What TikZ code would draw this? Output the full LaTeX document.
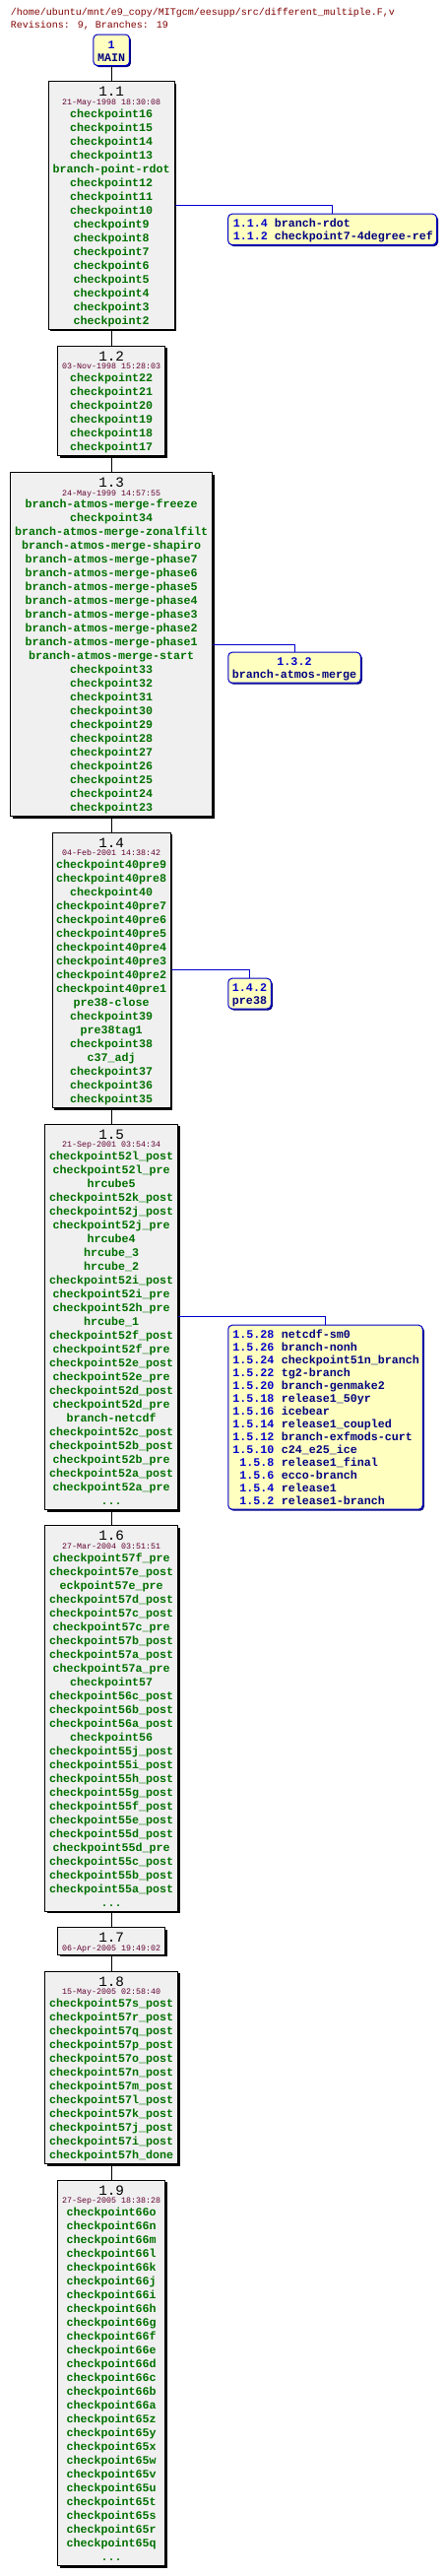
\documentclass[tikz,border=0pt]{standalone}
\usepackage{fontspec}
\newfontfamily\mono{Liberation Mono}
\usetikzlibrary{shadows}
\definecolor{tagc}{RGB}{0,112,0}
\definecolor{datec}{RGB}{96,0,48}
\definecolor{headc}{RGB}{128,0,0}
\definecolor{bnum}{RGB}{0,0,204}
\definecolor{bname}{RGB}{0,0,128}
\definecolor{revfill}{RGB}{240,240,240}
\definecolor{brfill}{RGB}{255,255,192}
\newcommand\tdots{...}
\tikzset{
  revbox/.style={draw=black, line width=1pt, fill=revfill, inner sep=0pt, anchor=north,
    drop shadow={shadow xshift=2pt, shadow yshift=-2pt, fill=black, opacity=1}},
  brbox/.style={draw=bnum, line width=1pt, fill=brfill, rounded corners=4pt, inner sep=0pt, anchor=north,
    drop shadow={shadow xshift=1.5pt, shadow yshift=-1.5pt, fill=bname, opacity=1}},
  tagtxt/.style={inner sep=0pt, anchor=base, text=tagc, font=\mono\bfseries\fontsize{11.67}{13}\selectfont},
  titletxt/.style={inner sep=0pt, anchor=base, text=black, font=\mono\fontsize{14.3}{16}\selectfont},
  datetxt/.style={inner sep=0pt, anchor=base, text=datec, font=\mono\fontsize{8.33}{10}\selectfont},
  headtxt/.style={inner sep=0pt, anchor=base west, text=headc, font=\mono\fontsize{10}{12}\selectfont},
  bnumtxt/.style={inner sep=0pt, anchor=base west, text=bnum, font=\mono\bfseries\fontsize{11.67}{13}\selectfont},
  bnametxt/.style={inner sep=0pt, anchor=base west, text=bname, font=\mono\bfseries\fontsize{11.67}{13}\selectfont},
  revline/.style={draw=black, line width=1pt},
  brline/.style={draw=bnum, line width=1pt},
}
\newcommand\revnode[6]{%
  \node[revbox, minimum width=#3pt, minimum height={27.4+14*#4}] (#1) at (113.2,#2) {};
  \node[titletxt] (#1t) at (113.2,{#2+15.4}) {#5};
  \node[datetxt] (#1d) at (113.2,{#2+24.2}) {#6};
}
\newcommand\revlines[3]{%
  \foreach \tg [count=\i from 0] in {#3} {\node[tagtxt] (#1l\i) at (113.2,{#2+36.7+14*\i}) {\tg};}
}
\begin{document}
\begin{tikzpicture}[x=1pt,y=-1pt]
\useasboundingbox (0,0) rectangle (454,2615);
% header
\node[headtxt] (h1) at (10.7,16) {/home/ubuntu/mnt/e9\_copy/MITgcm/eesupp/src/different\_multiple.F,v};
\node[headtxt] (h2) at (10.7,28.7) {Revisions: 9, Branches: 19};
% MAIN
\node[brbox, anchor=center, minimum width=36.5pt, minimum height=31.5pt] (main) at (113.2,50.8) {};
\node[inner sep=0pt, anchor=base, text=bnum, font=\mono\bfseries\fontsize{11.67}{13}\selectfont] (main1) at (113.2,49) {1};
\node[inner sep=0pt, anchor=base, text=bname, font=\mono\bfseries\fontsize{11.67}{13}\selectfont] (main2) at (113.2,62.3) {MAIN};
% revisions
\revnode{r11}{82.3}{128.2}{16}{1.1}{21-May-1998 18:30:08}
\revlines{r11}{82.3}{checkpoint16,checkpoint15,checkpoint14,checkpoint13,branch-point-rdot,checkpoint12,checkpoint11,checkpoint10,checkpoint9,checkpoint8,checkpoint7,checkpoint6,checkpoint5,checkpoint4,checkpoint3,checkpoint2}
\revnode{r12}{350.7}{108.6}{6}{1.2}{03-Nov-1998 15:28:03}
\revlines{r12}{350.7}{checkpoint22,checkpoint21,checkpoint20,checkpoint19,checkpoint18,checkpoint17}
\revnode{r13}{479}{204.6}{23}{1.3}{24-May-1999 14:57:55}
\revlines{r13}{479}{branch-atmos-merge-freeze,checkpoint34,branch-atmos-merge-zonalfilt,branch-atmos-merge-shapiro,branch-atmos-merge-phase7,branch-atmos-merge-phase6,branch-atmos-merge-phase5,branch-atmos-merge-phase4,branch-atmos-merge-phase3,branch-atmos-merge-phase2,branch-atmos-merge-phase1,branch-atmos-merge-start,checkpoint33,checkpoint32,checkpoint31,checkpoint30,checkpoint29,checkpoint28,checkpoint27,checkpoint26,checkpoint25,checkpoint24,checkpoint23}
\revnode{r14}{844.7}{120.3}{18}{1.4}{04-Feb-2001 14:38:42}
\revlines{r14}{844.7}{checkpoint40pre9,checkpoint40pre8,checkpoint40,checkpoint40pre7,checkpoint40pre6,checkpoint40pre5,checkpoint40pre4,checkpoint40pre3,checkpoint40pre2,checkpoint40pre1,pre38-close,checkpoint39,pre38tag1,checkpoint38,c37\_adj,checkpoint37,checkpoint36,checkpoint35}
\revnode{r15}{1140.7}{135}{26}{1.5}{21-Sep-2001 03:54:34}
\revlines{r15}{1140.7}{checkpoint52l\_post,checkpoint52l\_pre,hrcube5,checkpoint52k\_post,checkpoint52j\_post,checkpoint52j\_pre,hrcube4,hrcube\_3,hrcube\_2,checkpoint52i\_post,checkpoint52i\_pre,checkpoint52h\_pre,hrcube\_1,checkpoint52f\_post,checkpoint52f\_pre,checkpoint52e\_post,checkpoint52e\_pre,checkpoint52d\_post,checkpoint52d\_pre,branch-netcdf,checkpoint52c\_post,checkpoint52b\_post,checkpoint52b\_pre,checkpoint52a\_post,checkpoint52a\_pre,\tdots}
\revnode{r16}{1548.3}{135}{26}{1.6}{27-Mar-2004 03:51:51}
\revlines{r16}{1548.3}{checkpoint57f\_pre,checkpoint57e\_post,eckpoint57e\_pre,checkpoint57d\_post,checkpoint57c\_post,checkpoint57c\_pre,checkpoint57b\_post,checkpoint57a\_post,checkpoint57a\_pre,checkpoint57,checkpoint56c\_post,checkpoint56b\_post,checkpoint56a\_post,checkpoint56,checkpoint55j\_post,checkpoint55i\_post,checkpoint55h\_post,checkpoint55g\_post,checkpoint55f\_post,checkpoint55e\_post,checkpoint55d\_post,checkpoint55d\_pre,checkpoint55c\_post,checkpoint55b\_post,checkpoint55a\_post,\tdots}
\revnode{r17}{1956.3}{108.6}{0}{1.7}{06-Apr-2005 19:49:02}
\revnode{r18}{2000.7}{135}{12}{1.8}{15-May-2005 02:58:40}
\revlines{r18}{2000.7}{checkpoint57s\_post,checkpoint57r\_post,checkpoint57q\_post,checkpoint57p\_post,checkpoint57o\_post,checkpoint57n\_post,checkpoint57m\_post,checkpoint57l\_post,checkpoint57k\_post,checkpoint57j\_post,checkpoint57i\_post,checkpoint57h\_done}
\revnode{r19}{2212.7}{108.6}{26}{1.9}{27-Sep-2005 18:38:28}
\revlines{r19}{2212.7}{checkpoint66o,checkpoint66n,checkpoint66m,checkpoint66l,checkpoint66k,checkpoint66j,checkpoint66i,checkpoint66h,checkpoint66g,checkpoint66f,checkpoint66e,checkpoint66d,checkpoint66c,checkpoint66b,checkpoint66a,checkpoint65z,checkpoint65y,checkpoint65x,checkpoint65w,checkpoint65v,checkpoint65u,checkpoint65t,checkpoint65s,checkpoint65r,checkpoint65q,\tdots}
% trunk connectors
\draw[revline] (main.south) -- (r11.north);
\draw[revline] (r11.south) -- (r12.north);
\draw[revline] (r12.south) -- (r13.north);
\draw[revline] (r13.south) -- (r14.north);
\draw[revline] (r14.south) -- (r15.north);
\draw[revline] (r15.south) -- (r16.north);
\draw[revline] (r16.south) -- (r17.north);
\draw[revline] (r17.south) -- (r18.north);
\draw[revline] (r18.south) -- (r19.north);
% branch boxes
\node[brbox, minimum width=211.8pt, minimum height=31.3pt] (b11) at (337.6,216.7) {};
\node[bnumtxt] (b11n0) at (236.7,230) {1.1.4};
\node[bnametxt] (b11m0) at (278.7,230) {branch-rdot};
\node[bnumtxt] (b11n1) at (236.7,243) {1.1.2};
\node[bnametxt] (b11m1) at (278.7,243) {checkpoint7-4degree-ref};
\node[brbox, minimum width=134.5pt, minimum height=31pt] (b13) at (299,661.7) {};
\node[bnumtxt, anchor=base] (b13n) at (299,675) {1.3.2};
\node[bnametxt, anchor=base] (b13m) at (299,688) {branch-atmos-merge};
\node[brbox, minimum width=43.5pt, minimum height=30.8pt] (b14) at (253.5,992.7) {};
\node[bnumtxt, anchor=base] (b14n) at (253.5,1006.3) {1.4.2};
\node[bnametxt, anchor=base] (b14m) at (253.5,1019.3) {pre38};
\node[brbox, minimum width=197.5pt, minimum height=187pt] (b15) at (330.5,1344.7) {};
\foreach \nm/\tx [count=\i from 0] in {1.5.28/netcdf-sm0,1.5.26/branch-nonh,1.5.24/checkpoint51n\_branch,1.5.22/tg2-branch,1.5.20/branch-genmake2,1.5.18/release1\_50yr,1.5.16/icebear,1.5.14/release1\_coupled,1.5.12/branch-exfmods-curt,1.5.10/c24\_e25\_ice,1.5.8/release1\_final,1.5.6/ecco-branch,1.5.4/release1,1.5.2/release1-branch}{
  \node[bnumtxt, anchor=base east] (b15n\i) at (278.7,{1358+13*\i}) {\nm};
  \node[bnametxt] (b15m\i) at (285.7,{1358+13*\i}) {\tx};
}
% branch connectors
\draw[brline] (r11.east) -| (b11.north);
\draw[brline] (r13.east) -| (b13.north);
\draw[brline] (r14.east) -| (b14.north);
\draw[brline] (r15.east) -| (b15.north);
\end{tikzpicture}
\end{document}
